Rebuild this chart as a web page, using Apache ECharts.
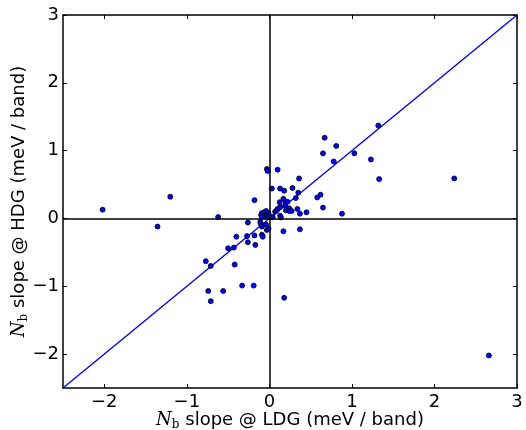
<!DOCTYPE html>
<html><head><meta charset="utf-8">
<script src="https://cdn.jsdelivr.net/npm/echarts@6/dist/echarts.min.js"></script>
<style>html,body{margin:0;padding:0;background:#fff}#c{width:526px;height:430px}</style>
</head><body><div id="c"></div>
<script>
const points = [
[-2.02,0.13],[-1.355,-0.12],[-1.20,0.32],[-0.62,0.02],[-0.77,-0.63],[-0.71,-0.70],
[-0.74,-1.07],[-0.71,-1.22],[-0.56,-1.07],[-0.50,-0.44],[-0.43,-0.43],[-0.40,-0.27],
[-0.42,-0.68],[-0.33,-0.99],[-0.19,-0.99],[-0.26,-0.06],[-0.27,-0.26],[-0.26,-0.35],
[-0.18,0.27],[-0.18,-0.25],[-0.17,-0.39],[-0.11,-0.05],[-0.105,-0.08],[-0.09,-0.12],
[-0.09,-0.24],[-0.08,-0.27],[-0.04,-0.09],[-0.09,0.08],[-0.065,0.09],[-0.04,0.11],
[-0.01,0.08],[-0.10,0.05],[-0.05,0.03],[-0.01,0.04],[0.01,0.02],[-0.09,0.02],
[0.04,0.02],[-0.03,0.73],[-0.02,0.70],[-0.03,-0.17],[-0.01,-0.15],[0.03,0.44],
[0.10,0.72],[0.07,0.10],[0.09,0.12],[0.10,0.14],[0.125,0.24],[0.13,0.44],
[0.13,0.17],[0.13,0.04],[0.14,0.015],[0.17,0.29],[0.18,0.41],[0.20,0.24],
[0.22,0.245],[0.19,0.19],[0.20,0.12],[0.24,0.15],[0.24,0.11],[0.27,0.11],
[0.28,0.45],[0.17,-0.19],[0.18,-1.17],[0.32,0.30],[0.35,0.38],[0.36,0.59],
[0.34,0.14],[0.37,0.07],[0.37,-0.16],[0.45,0.09],[0.58,0.31],[0.62,0.35],
[0.65,0.16],[0.65,0.96],[0.67,1.19],[0.78,0.84],[0.81,1.07],[0.88,0.07],
[1.03,0.96],[1.23,0.87],[1.32,1.37],[1.33,0.58],[2.24,0.59],[2.66,-2.02]
];
const diagonal = [[-2.5,-2.5],[3,3]];
const xTicks = [-2,-1,0,1,2,3];
const yTicks = [-2,-1,0,1,2,3];
const xRange = [-2.5, 3];
const yRange = [-2.5, 3];
const xTitle = ['N','b',' slope @ LDG (meV / band)'];
const yTitle = ['N','b',' slope @ HDG (meV / band)'];

const fmt = v => String(v).replace('-', '\u2212');
const rich = {
  n: {fontFamily:'DejaVu Serif', fontStyle:'italic', fontSize:18, color:'#000', lineHeight:22},
  s: {fontFamily:'DejaVu Serif', fontSize:12, color:'#000', lineHeight:10, verticalAlign:'bottom'},
  t: {fontFamily:'DejaVu Sans', fontSize:18, color:'#000', lineHeight:22}
};
const title = a => '{n|' + a[0] + '}{s|' + a[1] + '}{t|' + a[2] + '}';
const lineStyle = {color:'#000', width:1.5};

function mkAxis(pos, range, ticks, main, t) {
  return {
    type:'value', position:pos, min:range[0], max:range[1],
    splitLine:{show:false},
    axisLine:{show:true, onZero:false, lineStyle},
    axisTick:{show:true, inside:true, length:4, customValues:ticks, lineStyle:{color:'#000', width:1}},
    axisLabel: main ? {show:true, customValues:ticks, formatter:fmt, color:'#000',
      fontFamily:'DejaVu Sans', fontSize:18, margin:pos==='bottom' ? 5 : 4, showMinLabel:true, showMaxLabel:true} : {show:false},
    name: main ? title(t) : '', nameLocation:'middle', nameMoveOverlap:false,
    nameTextStyle:{rich},
    nameGap: main ? (pos==='bottom' ? 21 : 33) : 0
  };
}

const chart = echarts.init(document.getElementById('c'), null, {renderer:'canvas'});
chart.setOption({
  animation:false,
  grid:{left:63, right:9, top:15, bottom:42, containLabel:false, outerBoundsMode:'none'},
  xAxis:[mkAxis('bottom', xRange, xTicks, true, xTitle), mkAxis('top', xRange, xTicks, false)],
  yAxis:[mkAxis('left', yRange, yTicks, true, yTitle), mkAxis('right', yRange, yTicks, false)],
  series:[
    {type:'line', data:diagonal, symbol:'none', lineStyle:{color:'#0000ff', width:1.4}, silent:true, z:2,
     markLine:{silent:true, symbol:'none', label:{show:false}, lineStyle:{color:'#000', width:1.5, type:'solid'},
       data:[{xAxis:0},{yAxis:0}]}},
    {type:'scatter', data:points, symbol:'circle', symbolSize:5,
     itemStyle:{color:'#0000ff', borderColor:'#000', borderWidth:0.8, opacity:1}, z:3}
  ]
});
</script></body></html>
